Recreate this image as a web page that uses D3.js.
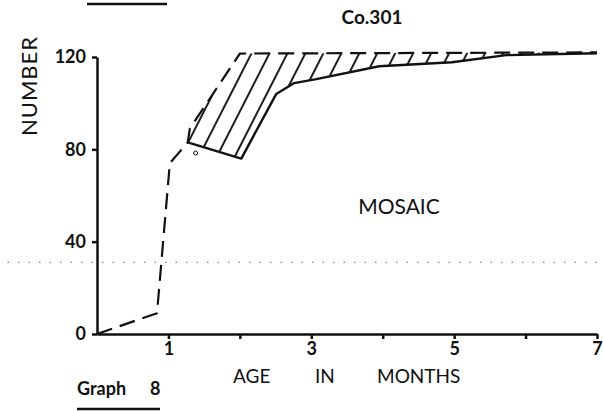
<!DOCTYPE html>
<meta charset="utf-8">
<script src="https://d3js.org/d3.v7.min.js"></script>
<body style="margin:0;background:#fff">
<div id="graph8"></div>
</body>
<style>
text { font-family: Lato, "Open Sans", sans-serif; fill: #111; }
.axis path, .axis line { stroke: #111; stroke-width: 2.5; }
.axis text { font-size: 18px; font-weight: bold; }
</style>
<script>
// values (age in months, number)
var dashedMonths  = [0, 0.84, 1.02, 1.27, 1.30, 2.0, 7.0]
var dashedNumbers = [0, 9, 74, 83, 89, 121.5, 122]
var solidMonths   = [1.27, 2.02, 2.51, 2.76, 3.07, 3.95, 4.97, 5.73, 7.0]
var solidNumbers  = [83, 76, 104, 108.7, 110.4, 116, 117.7, 120.8, 121.6]
var circleMonths  = [1.38]
var circleNumbers = [78.4]
var xTicks = [1, 2, 3, 4, 5, 6, 7]
var xTickLabels = ["1", "", "3", "", "5", "", "7"]
var yTicks = [0, 40, 80, 120]
var hatchFrom = 3   // dashed point where the shaded band starts
var scanDots = 31   // faint dotted line across the print

var margin = {top: 57, right: 6, bottom: 77, left: 97},
    width = 603 - margin.left - margin.right,
    height = 411 - margin.top - margin.bottom;

var root = d3.select("#graph8")
  .append("svg")
    .attr("width", 603)
    .attr("height", 411)

// hatch pattern for the shaded band
var pat = root.append("defs").append("pattern")
    .attr("id", "hatch")
    .attr("patternUnits", "userSpaceOnUse")
    .attr("width", 16)
    .attr("height", 16)
    .attr("patternTransform", "rotate(27)")
pat.append("line")
    .attr("x1", 8).attr("x2", 8)
    .attr("y1", 0).attr("y2", 16)
    .attr("stroke", "#111")
    .attr("stroke-width", 1.9)

var svg = root.append("g")
    .attr("transform", "translate(" + margin.left + "," + margin.top + ")");

var x = d3.scaleLinear().domain([0, 7]).range([0, width]);
var y = d3.scaleLinear().domain([0, 120]).range([height, 0]);

var dashed = dashedMonths.map(function(m, i) { return [m, dashedNumbers[i]]; })
var solid = solidMonths.map(function(m, i) { return [m, solidNumbers[i]]; })

var line = d3.line()
    .x(function(d) { return x(d[0]); })
    .y(function(d) { return y(d[1]); })

// faint dotted line from the scan
svg.append("line")
    .attr("x1", x(-1.4)).attr("x2", x(7.1))
    .attr("y1", y(scanDots)).attr("y2", y(scanDots))
    .attr("stroke", "#888")
    .attr("stroke-width", 1.2)
    .attr("stroke-dasharray", "1.5 9")

// shaded band between the two curves
var band = dashed.slice(hatchFrom).concat(solid.slice().reverse())
svg.append("path")
    .datum(band)
    .attr("d", line)
    .attr("fill", "url(#hatch)")
    .attr("stroke", "none")

// axes
svg.append("g")
    .attr("class", "axis")
    .call(d3.axisLeft(y).tickValues(yTicks).tickSize(5).tickSizeOuter(0).tickPadding(6))

svg.append("g")
    .attr("class", "axis")
    .attr("transform", "translate(0," + height + ")")
    .call(d3.axisBottom(x).tickValues(xTicks).tickSize(5).tickSizeOuter(0).tickPadding(3)
      .tickFormat(function(d, i) { return xTickLabels[i]; }))

// curves
svg.append("path")
    .datum(dashed)
    .attr("d", line)
    .attr("fill", "none")
    .attr("stroke", "#111")
    .attr("stroke-width", 2.2)
    .attr("stroke-dasharray", "16 8")

svg.append("path")
    .datum(solid)
    .attr("d", line)
    .attr("fill", "none")
    .attr("stroke", "#111")
    .attr("stroke-width", 2.4)
    .attr("stroke-linejoin", "round")

svg.selectAll("circle.pt")
    .data(circleMonths)
    .enter()
    .append("circle")
      .attr("class", "pt")
      .attr("cx", function(d) { return x(d); })
      .attr("cy", function(d, i) { return y(circleNumbers[i]); })
      .attr("r", 2)
      .attr("fill", "none")
      .attr("stroke", "#111")
      .attr("stroke-width", 1)

// texts
root.append("text")
    .attr("transform", "translate(37,86) rotate(-90)")
    .attr("text-anchor", "middle")
    .style("font-size", "22px")
    .style("letter-spacing", "1px")
    .text("NUMBER")

root.append("text")
    .attr("x", 372).attr("y", 24)
    .attr("text-anchor", "middle")
    .style("font-size", "19px").style("font-weight", "bold")
    .text("Co.301")

root.append("text")
    .attr("x", 399).attr("y", 214)
    .attr("text-anchor", "middle")
    .style("font-size", "21px")
    .text("MOSAIC")

var ageWords = [["AGE", 233], ["IN", 315], ["MONTHS", 377]]
root.selectAll("text.age")
  .data(ageWords)
  .enter()
  .append("text")
    .attr("class", "age")
    .attr("x", function(d) { return d[1]; })
    .attr("y", 383)
    .style("font-size", "19px")
    .text(function(d) { return d[0]; })

root.append("text")
    .attr("x", 77).attr("y", 395)
    .style("font-size", "18px").style("font-weight", "bold")
    .text("Graph")
root.append("text")
    .attr("x", 150).attr("y", 395)
    .style("font-size", "18px").style("font-weight", "bold")
    .text("8")

// rules above and under the captions
root.append("line")
    .attr("x1", 77).attr("x2", 160).attr("y1", 409).attr("y2", 409)
    .attr("stroke", "#111").attr("stroke-width", 2.5)
root.append("line")
    .attr("x1", 87).attr("x2", 167).attr("y1", 4).attr("y2", 4)
    .attr("stroke", "#111").attr("stroke-width", 2.5)
</script>
